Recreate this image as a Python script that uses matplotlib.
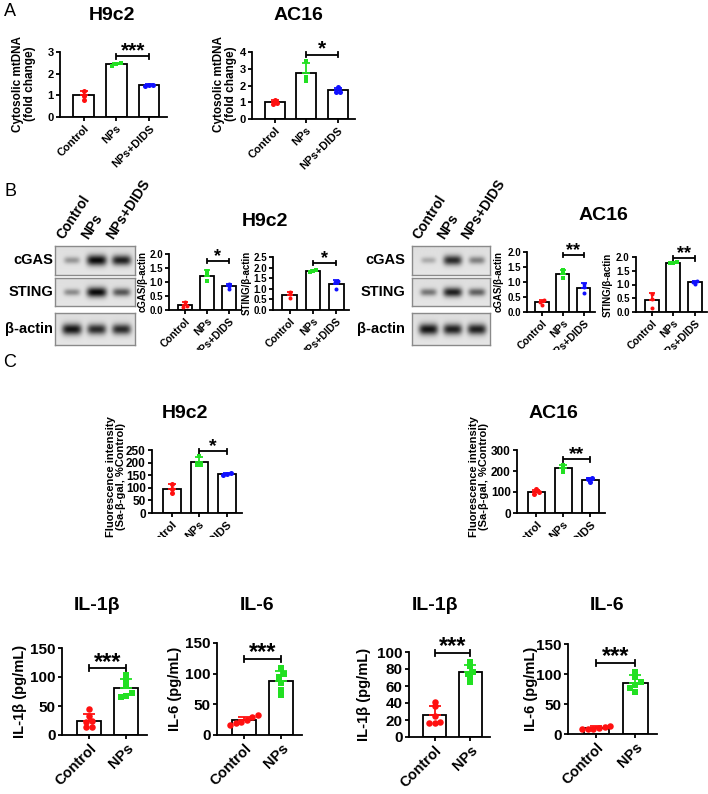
import numpy as np
import matplotlib
matplotlib.use('Agg')
import matplotlib.pyplot as plt
from matplotlib.transforms import Bbox, TransformedBbox

plt.rcParams['font.family'] = ['Liberation Sans', 'DejaVu Sans']
plt.rcParams['font.weight'] = 'bold'

W, H = 708, 794
fig = plt.figure(figsize=(W / 100, H / 100), dpi=100)

# ---------------- data ----------------
cats3 = ['Control', 'NPs', 'NPs+DIDS']
cats2 = ['Control', 'NPs']

# Panel A: cytosolic mtDNA (fold change)
mtdna_h9c2 = [[1.20, 0.98, 0.80], [2.35, 2.50, 2.45], [1.45, 1.50, 1.48]]
mtdna_ac16 = [[1.12, 0.98, 0.92], [3.45, 2.50, 2.25], [1.90, 1.60, 1.62]]

# Panel B: western blot quantification
cgas_h9c2 = [[0.28, 0.15, 0.10], [1.40, 1.25, 1.02], [0.93, 0.86, 0.76]]
sting_h9c2 = [[0.85, 0.75, 0.55], [1.88, 1.82, 1.78], [1.38, 1.32, 1.00]]
cgas_ac16 = [[0.40, 0.35, 0.25], [1.40, 1.30, 1.15], [0.95, 0.85, 0.65]]
sting_ac16 = [[0.65, 0.48, 0.15], [1.82, 1.80, 1.78], [1.12, 1.10, 1.02]]

# blot band darkness per lane (Control, NPs, NPs+DIDS)
blot_rows = ['cGAS', 'STING', 'β-actin']
band_h9c2 = {'cGAS': [0.35, 1.00, 0.90], 'STING': [0.40, 1.00, 0.65], 'β-actin': [0.95, 0.85, 0.85]}
band_ac16 = {'cGAS': [0.25, 0.85, 0.45], 'STING': [0.50, 0.90, 0.60], 'β-actin': [0.95, 0.90, 0.90]}

# Panel C: SA-β-gal fluorescence (% control)
sabgal_h9c2 = [[115, 95, 80], [225, 192, 190], [158, 155, 152]]
sabgal_ac16 = [[112, 98, 90], [228, 215, 196], [168, 160, 147]]

# Bottom: cytokines (pg/mL)
il1b_h9c2 = [[44, 32, 25, 22, 14, 13], [103, 93, 85, 73, 68, 66]]
il6_h9c2 = [[32, 30, 25, 22, 19, 17], [110, 100, 95, 85, 73, 65]]
il1b_ac16 = [[41, 36, 25, 18, 17, 16], [88, 83, 77, 74, 70, 65]]
il6_ac16 = [[14, 12, 10, 9, 8, 8], [103, 95, 87, 82, 77, 70]]

# ---------------- style ----------------
COLORS = ['#FF1010', '#22E022', '#1010FF']
MARKERS = ['o', 's', 'o']


def px_axes(l, t, r, b):
    return fig.add_axes([l / W, 1 - b / H, (r - l) / W, (b - t) / H])


def ftext(x, y, s, **kw):
    return fig.text(x / W, 1 - y / H, s, **kw)


def spread(vals, ymax, step, thr=0.035):
    vals = np.asarray(vals, float)
    order = np.argsort(vals)
    offs = np.zeros(len(vals))
    clusters, cur = [], [order[0]]
    for a, b in zip(order[:-1], order[1:]):
        if vals[b] - vals[a] < thr * ymax:
            cur.append(b)
        else:
            clusters.append(cur)
            cur = [b]
    clusters.append(cur)
    for c in clusters:
        k = len(c)
        for j, idx in enumerate(c):
            offs[idx] = (j - (k - 1) / 2) * step
    return offs


def bar_chart(rect, groups, cats, ymax, yticks, fmt, sig, fs_tick, fs_cat,
              mpx, lw=1.3, cap=3, star_fs=12, clip_y=None, sig_h=0.04):
    ax = px_axes(*rect)
    n = len(groups)
    x = np.arange(n)
    xlim = (-0.72, n - 0.45)
    ppu = (rect[2] - rect[0]) / (xlim[1] - xlim[0])
    step = 0.85 * mpx / ppu
    s = (mpx * 0.72) ** 2
    means = [np.mean(g) for g in groups]
    sds = [np.std(g, ddof=1) for g in groups]
    ax.bar(x, means, width=0.64, color='white', edgecolor='black', linewidth=lw, zorder=2)
    for i, g in enumerate(groups):
        ax.errorbar(x[i], means[i], yerr=[[0], [sds[i]]], color=COLORS[i], capsize=cap,
                    elinewidth=lw, capthick=lw, zorder=3, clip_on=False)
        offs = spread(g, ymax, step)
        ax.scatter(x[i] + offs, g, s=s, marker=MARKERS[i], color=COLORS[i], zorder=4,
                   linewidths=0, clip_on=False)
    ax.set_xlim(*xlim)
    ax.set_ylim(0, ymax)
    ax.set_yticks(yticks)
    ax.set_yticklabels([fmt % v for v in yticks])
    ax.set_xticks(x)
    ax.set_xticklabels(cats, rotation=45, ha='right', rotation_mode='anchor')
    for sp in ['top', 'right']:
        ax.spines[sp].set_visible(False)
    for sp in ['left', 'bottom']:
        ax.spines[sp].set_linewidth(lw)
    ax.tick_params(axis='both', direction='out', length=3, width=lw, pad=1.5)
    ax.tick_params(axis='y', labelsize=fs_tick)
    ax.tick_params(axis='x', labelsize=fs_cat)
    ax.patch.set_alpha(0)
    if sig is not None:
        x1, x2, y, txt = sig
        d = sig_h * ymax
        ax.plot([x1, x2], [y, y], color='black', lw=lw, clip_on=False, solid_capstyle='butt')
        for xx in (x1, x2):
            ax.plot([xx, xx], [y - d, y + d], color='black', lw=lw, clip_on=False)
        ax.annotate(txt, xy=((x1 + x2) / 2, y), xytext=(0, -star_fs * 0.1 + 1.5),
                    textcoords='offset points', ha='center', va='baseline',
                    fontsize=star_fs, fontweight='bold', annotation_clip=False)
    if clip_y is not None:
        cb = TransformedBbox(Bbox([[0, 1 - clip_y / H], [1, 1]]), fig.transFigure)
        for t in ax.get_xticklabels():
            t.set_clip_box(cb)
            t.set_clip_on(True)
    return ax


def draw_blot(rect, darkness):
    ax = px_axes(*rect)
    h, w = 60, 240
    yy, xx = np.mgrid[0:h, 0:w]
    img = np.full((h, w), 0.87) + 0.03 * (yy / h)
    centers = (0.21 + 0.31 * np.arange(3)) * w
    for i, dk in enumerate(darkness):
        bw = w * (0.085 + 0.04 * dk)
        bh = h * (0.08 + 0.10 * dk)
        band = np.exp(-((xx - centers[i]) / bw) ** 4) * np.exp(-((yy - h * 0.5) / bh) ** 2)
        img = img - dk * 0.85 * band
    ax.imshow(np.clip(img, 0, 1), cmap='gray', vmin=0, vmax=1, aspect='auto',
              interpolation='bilinear')
    ax.set_xticks([])
    ax.set_yticks([])
    for sp in ax.spines.values():
        sp.set_color('#8a8a8a')
        sp.set_linewidth(1)
    return ax


# ---------------- Panel A ----------------
ftext(10, 12, 'A', fontsize=13, fontweight='normal', ha='center', va='center')
bar_chart((60, 52, 167, 117), mtdna_h9c2, cats3, 3, [0, 1, 2, 3], '%d',
          (1, 2, 2.8, '***'), 8, 8, 5, star_fs=15)
ftext(112, 16, 'H9c2', fontsize=14, ha='center', va='center')
ftext(24, 84, 'Cytosolic mtDNA\n(fold change)', fontsize=8.5, rotation=90,
      ha='center', va='center', multialignment='center', linespacing=1.1)

bar_chart((252, 52, 355, 119), mtdna_ac16, cats3, 4, [0, 1, 2, 3, 4], '%d',
          (1, 2, 3.85, '*'), 8, 8, 5, star_fs=15)
ftext(298, 16, 'AC16', fontsize=14, ha='center', va='center')
ftext(225, 84, 'Cytosolic mtDNA\n(fold change)', fontsize=8.5, rotation=90,
      ha='center', va='center', multialignment='center', linespacing=1.1)

# ---------------- Panel B ----------------
ftext(10, 192, 'B', fontsize=13, fontweight='normal', ha='center', va='center')

blot_y = [(246, 275), (278, 306), (313, 345)]
for (bx0, bx1, lab_x, data) in [(55, 135, 53, band_h9c2), (412, 490, 405, band_ac16)]:
    for (t, b), row in zip(blot_y, blot_rows):
        draw_blot((bx0, t, bx1, b), data[row])
        ftext(lab_x, (t + b) / 2, row, fontsize=10.5, ha='right', va='center')
    lanes = bx0 + (0.21 + 0.31 * np.arange(3)) * (bx1 - bx0)
    for lx, c in zip(lanes, cats3):
        ftext(lx - 6, 242, c, fontsize=10, rotation=57, ha='left', va='bottom',
              rotation_mode='anchor')

bar_chart((169, 254, 241, 310), cgas_h9c2, cats3, 2.0, [0, 0.5, 1.0, 1.5, 2.0], '%.1f',
          (1, 2, 1.75, '*'), 7, 7.5, 4, cap=2.5, star_fs=13, clip_y=350)
ftext(143, 281, 'cGAS/β-actin', fontsize=7, rotation=90, ha='center', va='center')
bar_chart((273, 257, 349, 310), sting_h9c2, cats3, 2.5, [0, 0.5, 1.0, 1.5, 2.0, 2.5], '%.1f',
          (1, 2, 2.2, '*'), 7, 7.5, 4, cap=2.5, star_fs=13, clip_y=350)
ftext(247, 283, 'STING/β-actin', fontsize=7, rotation=90, ha='center', va='center')
ftext(265, 222, 'H9c2', fontsize=14, ha='center', va='center')

bar_chart((527, 252, 595, 312), cgas_ac16, cats3, 2.0, [0, 0.5, 1.0, 1.5, 2.0], '%.1f',
          (1, 2, 1.9, '**'), 7, 7.5, 4, cap=2.5, star_fs=13, clip_y=350)
ftext(499, 282, 'cGAS/β-actin', fontsize=7, rotation=90, ha='center', va='center')
bar_chart((636, 257, 707, 312), sting_ac16, cats3, 2.0, [0, 0.5, 1.0, 1.5, 2.0], '%.1f',
          (1, 2, 1.95, '**'), 7, 7.5, 4, cap=2.5, star_fs=13, clip_y=350)
ftext(608, 285, 'STING/β-actin', fontsize=7, rotation=90, ha='center', va='center')
ftext(603, 215, 'AC16', fontsize=14, ha='center', va='center')

# ---------------- Panel C ----------------
ftext(10, 362, 'C', fontsize=13, fontweight='normal', ha='center', va='center')
bar_chart((152, 450, 242, 513), sabgal_h9c2, cats3, 250, [0, 50, 100, 150, 200, 250], '%d',
          (1, 2, 245, '*'), 8.5, 8, 5, star_fs=14, clip_y=537)
ftext(185, 413, 'H9c2', fontsize=14, ha='center', va='center')
ftext(116, 477, 'Fluorescence intensity\n(Sa-β-gal, %Control)', fontsize=8, rotation=90,
      ha='center', va='center', multialignment='center', linespacing=1.1)

bar_chart((517, 450, 605, 513), sabgal_ac16, cats3, 300, [0, 100, 200, 300], '%d',
          (1, 2, 255, '**'), 8.5, 8, 5, star_fs=14, clip_y=537)
ftext(553, 413, 'AC16', fontsize=14, ha='center', va='center')
ftext(479, 477, 'Fluorescence intensity\n(Sa-β-gal, %Control)', fontsize=8, rotation=90,
      ha='center', va='center', multialignment='center', linespacing=1.1)

# ---------------- Bottom row ----------------
bottom = [
    ((62, 648, 147, 735), il1b_h9c2, 150, [0, 50, 100, 150], 115, 'IL-1β', 'IL-1β (pg/mL)', 97, 20),
    ((217, 643, 302, 735), il6_h9c2, 150, [0, 50, 100, 150], 124, 'IL-6', 'IL-6 (pg/mL)', 257, 175),
    ((409, 652, 490, 737), il1b_ac16, 100, [0, 20, 40, 60, 80, 100], 99, 'IL-1β', 'IL-1β (pg/mL)', 435, 364),
    ((568, 644, 657, 734), il6_ac16, 150, [0, 50, 100, 150], 118, 'IL-6', 'IL-6 (pg/mL)', 607, 531),
]
for rect, data, ymax, ticks, sy, title, ylab, tx, lx in bottom:
    bar_chart(rect, data, cats2, ymax, ticks, '%d', (0, 1, sy, '***'), 11, 10.5, 6.5,
              cap=4, star_fs=17, sig_h=0.035)
    ftext(tx, 605, title, fontsize=14, ha='center', va='center')
    ftext(lx, (rect[1] + rect[3]) / 2, ylab, fontsize=10.5, rotation=90, ha='center', va='center')

fig.savefig('out.png', dpi=100)
